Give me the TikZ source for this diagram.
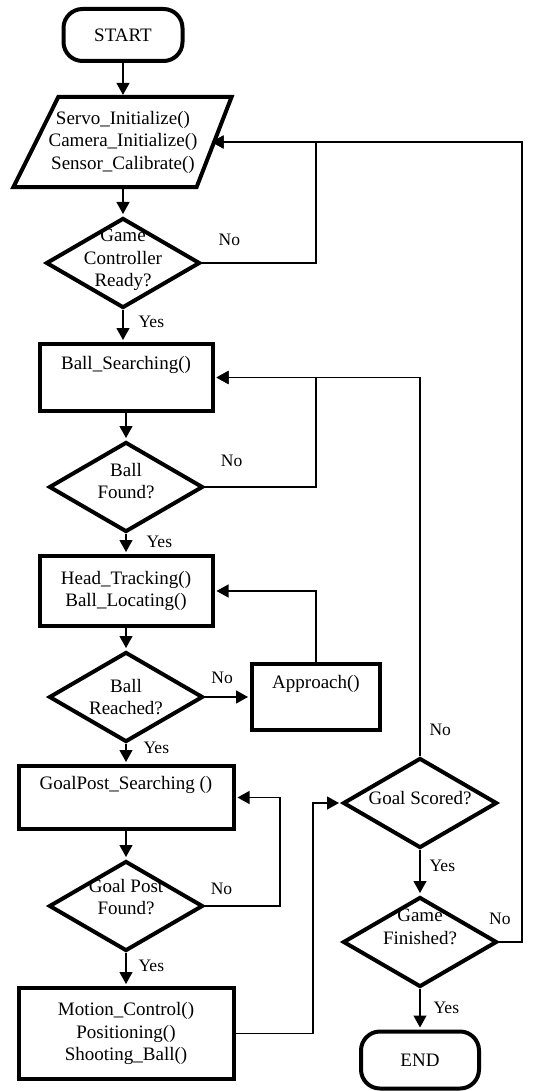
\documentclass[tikz,border=0pt]{standalone}
\usepackage{fontspec}
\setmainfont{Liberation Serif}
\usetikzlibrary{arrows.meta,shapes.geometric,positioning}

\begin{document}
\begin{tikzpicture}[->,>={Triangle[length=12pt,width=13pt]},shorten >=2pt,auto,
                    x=1pt,y=1pt,node distance=107pt,line width=1.2pt,
                    font=\fontsize{19}{22.5}\selectfont]

  \tikzstyle{block}=[rectangle,draw,line width=4pt,align=center,inner sep=2pt]
  \tikzstyle{term}=[block,rounded corners=19pt]
  \tikzstyle{io}=[rectangle,align=center,inner sep=0pt,
                  minimum width=172pt,minimum height=89pt]
  \tikzstyle{decision}=[diamond,draw,line width=4pt,inner sep=0pt,
                        minimum width=154pt,minimum height=90pt]
  \tikzstyle{answer}=[font=\fontsize{17.5}{21}\selectfont,inner sep=0pt]

  \useasboundingbox (0,0) rectangle (546,-1091);

  \node[term,minimum width=119pt,minimum height=52pt] (start) at (123,-35) {START};
  \node[io] (init) [below of=start, node distance=107pt]
        {Servo\_Initialize()\\Camera\_Initialize()\\Sensor\_Calibrate()};
  \draw[-,shorten >=0pt,line width=4pt]
        ([xshift=22pt]init.north west) -- ([xshift=22pt]init.north east)
     -- ([xshift=-13pt]init.south east) -- ([xshift=-23pt]init.south west) -- cycle;
  \node[decision] (ready) [below of=init, node distance=121pt]
        [label={[align=center,yshift=3pt]center:Game\\Controller\\Ready?}] {};
  \node[block,minimum width=173pt,minimum height=67pt] (search)
        [below of=ready, node distance=114.5pt, xshift=3pt] {Ball\_Searching()\\\strut};
  \node[decision] (found) [below of=search, node distance=109.5pt]
        [label={[align=center,yshift=6pt]center:Ball\\Found?}] {};
  \node[block,minimum width=173pt,minimum height=70pt] (track)
        [below of=found, node distance=104pt] {Head\_Tracking()\\Ball\_Locating()};
  \node[decision] (reached) [below of=track, node distance=106pt]
        [label={[align=center]center:Ball\\Reached?}] {};
  \node[block,minimum width=128pt,minimum height=66pt] (approach)
        [right of=reached, node distance=190pt] {Approach()\\\strut};
  \node[block,minimum width=215pt,minimum height=63pt] (goalsearch)
        [below of=reached, node distance=100.5pt] {GoalPost\_Searching ()\\\strut};
  \node[decision] (postfound) [below of=goalsearch, node distance=108.5pt]
        [label={[align=center,yshift=9pt]center:Goal Post\\Found?}] {};
  \node[block,minimum width=215pt,minimum height=91pt] (motion)
        [below of=postfound, node distance=127.5pt]
        {Motion\_Control()\\Positioning()\\Shooting\_Ball()};
  \node[decision] (scored) [right of=goalsearch, node distance=294pt, yshift=-5.5pt]
        [label={[yshift=5pt]center:Goal Scored?}] {};
  \node[decision] (finished) [below of=scored, node distance=139pt]
        [label={[align=center,yshift=15pt]center:Game\\Finished?}] {};
  \node[term,minimum width=118pt,minimum height=57pt] (end)
        [below of=finished, node distance=118pt] {END};

  \coordinate (colA) at (316,0);
  \coordinate (colB) at (280,0);
  \coordinate (colC) at (313,0);
  \coordinate (colD) at (522,0);

  \path
  (start)      edge                                              (init)
  (init)       edge                                              (ready)
  (ready.south) edge node[answer,pos=.36,xshift=15pt] {Yes}      (ready.south |- search.north)
  (search)     edge                                              (found)
  (found)      edge node[answer,pos=.39,xshift=20pt] {Yes}       (track)
  (track)      edge                                              (reached)
  (reached)    edge node[answer,pos=.38,yshift=13pt] {No}        (approach)
  (reached)    edge node[answer,pos=.2,xshift=17pt]  {Yes}       (goalsearch)
  (goalsearch) edge                                              (postfound)
  (postfound)  edge node[answer,pos=.39,xshift=12pt] {Yes}       (motion)
  (scored)     edge node[answer,pos=.36,xshift=9pt]  {Yes}       (finished)
  (finished)   edge node[answer,pos=.47,xshift=13pt] {Yes}       (end)
  ;

  \draw (ready.east) -- node[answer,pos=.24,yshift=17pt] {No} (ready.east -| colA)
        |- (init.east);
  \draw (found.east) -- node[answer,pos=.24,yshift=20pt] {No} (found.east -| colA)
        |- (search.east);
  \draw (approach.north) |- (track.east);
  \draw (postfound.east) -- node[answer,pos=.22,yshift=11pt] {No} (postfound.east -| colB)
        |- (goalsearch.east);
  \draw (motion.east) -- (motion.east -| colC) |- (scored.west);
  \draw (scored.north) -- node[answer,swap,pos=.07,xshift=9pt] {No} (scored.north |- search.east)
        -- (search.east);
  \draw (finished.east) -- node[answer,pos=.04,yshift=17pt] {No} (finished.east -| colD)
        |- (init.east);
\end{tikzpicture}
\end{document}
